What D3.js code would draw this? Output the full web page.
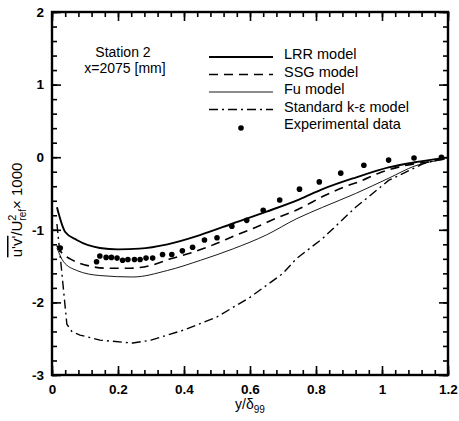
<!DOCTYPE html>
<html>
<head>
<meta charset="utf-8">
<script src="https://cdn.jsdelivr.net/npm/d3@7"></script>
<style>
  body { margin: 0; background: #fff; }
  text { font-family: "Liberation Sans", Arial, sans-serif; fill: #000; }
</style>
</head>
<body>
<script>
// curves, [y/delta99, u'v'/Uref^2 x 1000]
var lrr = [[0.015,-0.69],[0.04,-1.03],[0.075,-1.14],[0.145,-1.25],[0.2,-1.27],[0.265,-1.26],
  [0.35,-1.20],[0.45,-1.07],[0.55,-0.91],[0.65,-0.75],[0.75,-0.58],[0.82,-0.44],[0.92,-0.28],
  [1.02,-0.14],[1.1,-0.07],[1.19,-0.01]]
var ssg = [[0.015,-1.22],[0.03,-1.32],[0.055,-1.40],[0.115,-1.50],[0.17,-1.53],[0.236,-1.53],
  [0.30,-1.49],[0.36,-1.40],[0.42,-1.32],[0.47,-1.24],[0.56,-1.07],[0.62,-0.96],[0.68,-0.84],
  [0.74,-0.73],[0.83,-0.52],[0.88,-0.42],[0.94,-0.32],[0.99,-0.22],[1.075,-0.11],[1.145,-0.06],[1.19,-0.02]]
var fu = [[0.015,-1.25],[0.035,-1.44],[0.075,-1.56],[0.145,-1.63],[0.245,-1.65],[0.35,-1.56],
  [0.45,-1.42],[0.55,-1.26],[0.65,-1.07],[0.74,-0.85],[0.82,-0.69],[0.92,-0.50],[1.02,-0.29],
  [1.10,-0.12],[1.19,-0.03]]
var keps = [[0.015,-0.92],[0.03,-1.6],[0.045,-2.3],[0.06,-2.4],[0.085,-2.45],[0.145,-2.52],
  [0.245,-2.56],[0.30,-2.52],[0.40,-2.38],[0.50,-2.20],[0.60,-1.93],[0.70,-1.60],[0.74,-1.40],
  [0.82,-1.12],[0.92,-0.69],[1.02,-0.32],[1.075,-0.2],[1.125,-0.09],[1.18,-0.02]]
var expData = [[0.025,-1.25],[0.135,-1.44],[0.145,-1.36],[0.164,-1.38],[0.18,-1.38],[0.197,-1.39],
  [0.214,-1.42],[0.23,-1.41],[0.25,-1.41],[0.267,-1.41],[0.285,-1.39],[0.305,-1.39],[0.335,-1.34],
  [0.363,-1.34],[0.395,-1.29],[0.426,-1.24],[0.462,-1.14],[0.50,-1.11],[0.545,-0.95],[0.59,-0.87],
  [0.64,-0.73],[0.69,-0.59],[0.75,-0.44],[0.81,-0.34],[0.875,-0.22],[0.945,-0.11],[1.02,-0.04],
  [1.097,-0.01],[1.18,0.0]]

var xTicks = [0, 0.2, 0.4, 0.6, 0.8, 1, 1.2]
var yTicks = [-3, -2, -1, 0, 1, 2]
var legendNames = ['LRR model', 'SSG model', 'Fu model', 'Standard k-\u03b5 model', 'Experimental data']

var w = 459, h = 421
var pL = 52, pR = 448, pT = 12, pB = 375 // plot box

var svg = d3.select('body').append('svg') // canvas
  .attr('width', w)
  .attr('height', h)

var x = d3.scaleLinear().domain([0, 1.2]).range([pL, pR])
var y = d3.scaleLinear().domain([-3, 2]).range([pB, pT])

var xMinor = d3.range(0, 31).map(function(i){ return i * 0.04 })
var yMinor = d3.range(-15, 11).map(function(i){ return i * 0.2 })

function fmt(d){ return String(+d.toFixed(1)) }

// minor ticks, all four sides, pointing in
svg.append('g').attr('transform', 'translate(0,' + pB + ')')
  .call(d3.axisBottom(x).tickValues(xMinor).tickSize(-5).tickFormat(''))
svg.append('g').attr('transform', 'translate(0,' + pT + ')')
  .call(d3.axisTop(x).tickValues(xMinor).tickSize(-5).tickFormat(''))
svg.append('g').attr('transform', 'translate(' + pL + ',0)')
  .call(d3.axisLeft(y).tickValues(yMinor).tickSize(-5).tickFormat(''))
svg.append('g').attr('transform', 'translate(' + pR + ',0)')
  .call(d3.axisRight(y).tickValues(yMinor).tickSize(-5).tickFormat(''))

// major ticks
svg.append('g').attr('class', 'ax').attr('transform', 'translate(0,' + pB + ')')
  .call(d3.axisBottom(x).tickValues(xTicks).tickSize(-9).tickSizeOuter(0).tickPadding(9).tickFormat(fmt))
svg.append('g').attr('transform', 'translate(0,' + pT + ')')
  .call(d3.axisTop(x).tickValues(xTicks).tickSize(-9).tickSizeOuter(0).tickFormat(''))
svg.append('g').attr('class', 'ax').attr('transform', 'translate(' + pL + ',0)')
  .call(d3.axisLeft(y).tickValues(yTicks).tickSize(-9).tickSizeOuter(0).tickPadding(8).tickFormat(fmt))
svg.append('g').attr('transform', 'translate(' + pR + ',0)')
  .call(d3.axisRight(y).tickValues(yTicks).tickSize(-9).tickSizeOuter(0).tickFormat(''))

svg.selectAll('.tick line').attr('stroke', '#000').attr('stroke-width', 1.6)
svg.selectAll('.domain').remove()
svg.selectAll('.ax text')
  .attr('font-size', '13.5px')
  .attr('font-weight', 'bold')
  .attr('font-family', '"Liberation Sans", Arial, sans-serif')

svg.append('rect') // frame
  .attr('x', pL).attr('y', pT)
  .attr('width', pR - pL).attr('height', pB - pT)
  .attr('fill', 'none').attr('stroke', '#000').attr('stroke-width', 2.4)

var line = d3.line()
  .x(function(d){ return x(d[0]) })
  .y(function(d){ return y(d[1]) })

var styles = [
  { data: lrr, width: 1.9, dash: null },
  { data: ssg, width: 1.6, dash: '9,6' },
  { data: fu, width: 0.9, dash: null },
  { data: keps, width: 1.4, dash: '9,4,2,4' }
]

styles.forEach(function(s){
  svg.append('path')
    .datum(s.data)
    .attr('d', line.curve(s.data === keps ? d3.curveLinear : d3.curveMonotoneX))
    .attr('fill', 'none')
    .attr('stroke', '#000')
    .attr('stroke-width', s.width)
    .attr('stroke-dasharray', s.dash)
})

svg.selectAll('circle.exp')
  .data(expData)
  .enter()
  .append('circle')
  .attr('class', 'exp')
  .attr('cx', function(d){ return x(d[0]) })
  .attr('cy', function(d){ return y(d[1]) })
  .attr('r', 2.8)
  .attr('fill', '#000')

// station label
svg.append('text').attr('x', 123).attr('y', 57).attr('text-anchor', 'middle')
  .attr('font-size', '14px').text('Station 2')
svg.append('text').attr('x', 125).attr('y', 73).attr('text-anchor', 'middle')
  .attr('font-size', '14px').text('x=2075 [mm]')

// legend
var lg = svg.append('g')
legendNames.forEach(function(name, i){
  var yy = 54 + i * 17.5
  if (i < 4) {
    var s = styles[i]
    lg.append('line')
      .attr('x1', 209).attr('x2', 273)
      .attr('y1', yy + 3).attr('y2', yy + 3)
      .attr('stroke', '#000')
      .attr('stroke-width', s.width)
      .attr('stroke-dasharray', s.dash)
  } else {
    lg.append('circle').attr('cx', 241).attr('cy', yy + 4).attr('r', 2.8).attr('fill', '#000')
  }
  lg.append('text')
    .attr('x', 284).attr('y', yy + 5)
    .attr('font-size', '14.5px')
    .text(name)
})

// axis titles
var xt = svg.append('text')
  .attr('x', 250).attr('y', 409)
  .attr('text-anchor', 'middle')
  .attr('font-size', '14px')
xt.append('tspan').text('y/\u03b4')
xt.append('tspan').attr('font-size', '10px').attr('dy', 4).text('99')

var yt = svg.append('text')
  .attr('transform', 'translate(22,210) rotate(-90)')
  .attr('text-anchor', 'middle')
  .attr('font-size', '15px')
yt.append('tspan').attr('text-decoration', 'overline').text("u'v'")
yt.append('tspan').text('/U')
yt.append('tspan').attr('font-size', '11px').attr('dy', -6).text('2')
yt.append('tspan').attr('font-size', '10px').attr('dx', -6).attr('dy', 10).text('ref')
yt.append('tspan').attr('dy', -4).text('\u00d7 1000')
</script>
</body>
</html>
